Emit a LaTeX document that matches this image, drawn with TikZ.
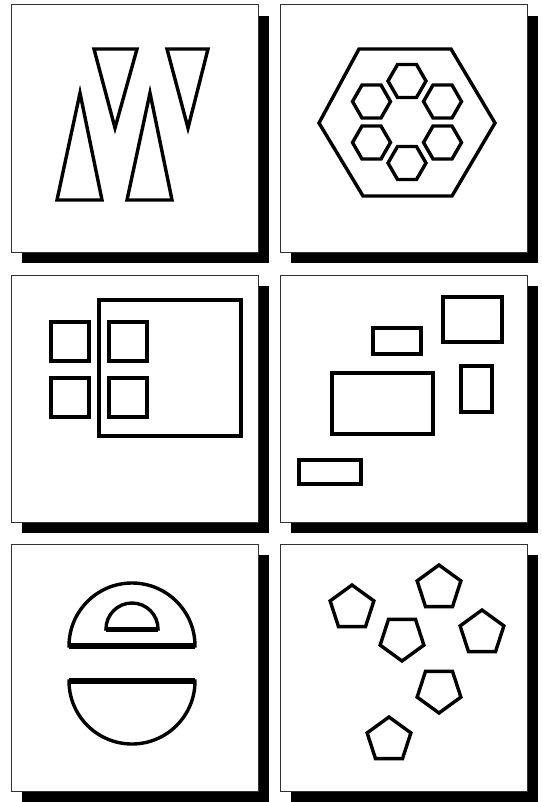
\documentclass[tikz,border=0pt]{standalone}
\usetikzlibrary{shapes.geometric,shadows}

\begin{document}
\begin{tikzpicture}[
  x=1pt, y=-1pt,
  panel/.style={draw=black!80,line width=1pt,fill=white,minimum size=247pt,inner sep=0pt,
    drop shadow={shadow xshift=11pt,shadow yshift=-11pt,fill=black,opacity=1}},
  outl/.style={draw,line width=3.4pt,line join=miter},
  chord/.style={draw,line width=6.5pt},
  hexa/.style={outl,regular polygon,regular polygon sides=6,minimum size=38pt,inner sep=0pt},
  penta/.style={outl,regular polygon,regular polygon sides=5,minimum size=46pt,inner sep=0pt},
  pentd/.style={penta,shape border rotate=180}]

\useasboundingbox (0,0) rectangle (541,802);

% six panels with hard shadow
\foreach \n/\px/\py in {p1/134.5/128.5, p2/403.5/128.5, p3/134.5/398.5,
                        p4/403.5/398.5, p5/134.5/667.5, p6/403.5/667.5}
  \node[panel] (\n) at (\px,\py) {};

% triangles
\draw[outl] (80,93) -- (102,200) -- (57,200) -- cycle;
\draw[outl] (150,93) -- (172,200) -- (127,200) -- cycle;
\draw[outl] (94,49) -- (137,49) -- (115,128) -- cycle;
\draw[outl] (167,49) -- (208,49) -- (188,128) -- cycle;

% hexagon ring
\draw[outl] (359,49) -- (451,49) -- (495,123) -- (452,196) -- (363,196) -- (319,123) -- cycle;
\foreach \a in {30,90,...,330}
  \node[hexa] (h\a) at ({407+41*cos(\a)},{122+41*sin(\a)}) {};

% squares and frame
\draw[outl] (99,300) rectangle (241,436);
\draw[outl] (51,322) rectangle (89,361);
\draw[outl] (109,322) rectangle (147,361);
\draw[outl] (51,378) rectangle (89,417);
\draw[outl] (109,378) rectangle (147,417);

% loose rectangles
\draw[outl] (443,297) rectangle (502,342);
\draw[outl] (373,328) rectangle (421,354);
\draw[outl] (332,373) rectangle (433,434);
\draw[outl] (461,366) rectangle (492,412);
\draw[outl] (299,460) rectangle (361,484);

% half discs
\draw[outl] (69,646) arc[start angle=180,end angle=360,radius=63] -- cycle;
\draw[chord] (69,646) -- (195,646);
\draw[outl] (106,629) arc[start angle=180,end angle=360,radius=26] -- cycle;
\draw[draw,line width=5pt] (106,629) -- (158,629);
\draw[outl] (69,681) arc[start angle=180,end angle=0,radius=63] -- cycle;
\draw[chord] (69,681) -- (195,681);

% pentagons
\node[penta] (q1) at (352,608) {};
\node[penta] (q2) at (439,588) {};
\node[pentd] (q3) at (402,638) {};
\node[penta] (q4) at (482,633) {};
\node[pentd] (q5) at (439,690) {};
\node[penta] (q6) at (389,740) {};
\end{tikzpicture}
\end{document}
